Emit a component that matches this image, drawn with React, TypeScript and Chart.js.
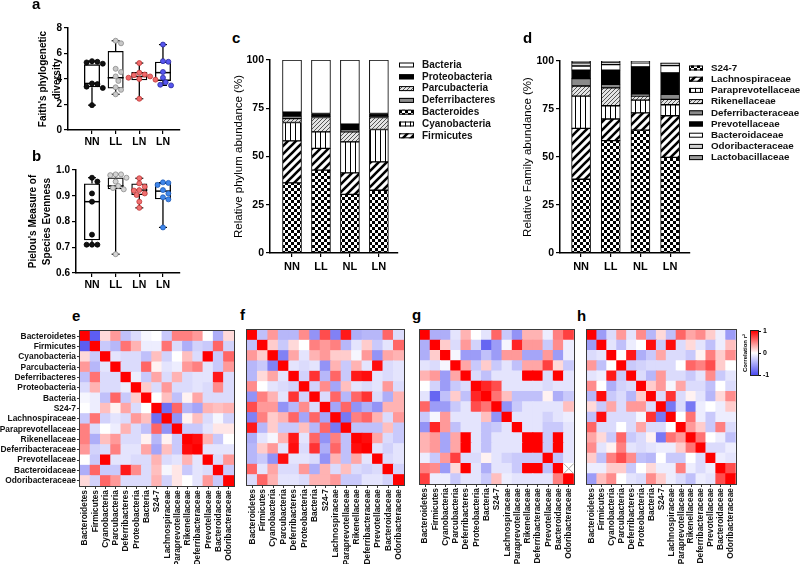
import React, { useEffect, useRef } from "react";
import { Chart, registerables } from "chart.js";
Chart.register(...registerables);

const FF = 'Arial, "Liberation Sans", Helvetica, sans-serif';

// ---------- panels a / b : alpha diversity ----------
const groupLabels = ["NN", "LL", "LN", "LN"];

const faithMin = [1.95, 2.8, 2.45, 3.5];
const faithQ1 = [3.35, 3.25, 3.9, 3.85];
const faithMed = [3.65, 4.1, 4.2, 4.5];
const faithQ3 = [5.15, 6.2, 4.55, 5.35];
const faithMax = [5.4, 7.0, 5.25, 6.7];
const faithNN = [5.4, 5.35, 5.3, 5.2, 3.65, 3.6, 3.4, 3.3, 1.95];
const faithLL = [7.0, 6.8, 4.8, 4.55, 4.2, 3.85, 3.35, 3.15, 2.8];
const faithLN1 = [5.25, 4.5, 4.35, 4.3, 4.2, 4.1, 4.0, 3.95, 2.45];
const faithLN2 = [6.7, 5.4, 5.35, 4.55, 4.1, 3.75, 3.55, 3.5];

const pielouMin = [0.71, 0.673, 0.853, 0.777];
const pielouQ1 = [0.727, 0.925, 0.903, 0.886];
const pielouMed = [0.877, 0.938, 0.922, 0.918];
const pielouQ3 = [0.948, 0.971, 0.948, 0.951];
const pielouMax = [0.97, 0.983, 0.968, 0.951];
const pielouNN = [0.97, 0.955, 0.909, 0.877, 0.749, 0.71, 0.71, 0.71];
const pielouLL = [0.983, 0.983, 0.98, 0.97, 0.955, 0.938, 0.93, 0.925, 0.673];
const pielouLN1 = [0.968, 0.948, 0.935, 0.922, 0.92, 0.909, 0.903, 0.877, 0.853];
const pielouLN2 = [0.952, 0.95, 0.942, 0.922, 0.909, 0.894, 0.886, 0.777];

// ---------- panels c / d : relative abundance ----------
const barGroups = ["NN", "LL", "NL", "LN"];

const phylumNames = ["Bacteroides", "Firmicutes", "Cyanobacteria", "Parcubacteria", "Deferribacteres", "Proteobacteria", "Bacteria"];
const phyBacteroides = [36.3, 42.9, 30.4, 32.5];
const phyFirmicutes = [21.8, 11.3, 11.1, 14.7];
const phyCyanobacteria = [9.5, 8.6, 16.1, 16.8];
const phyParcubacteria = [2.0, 7.4, 5.2, 6.2];
const phyDeferribacteres = [1.3, 0.4, 0.9, 0.5];
const phyProteobacteria = [2.1, 1.7, 3.1, 1.6];
const phyBacteria = [27.0, 27.7, 33.2, 27.7];
const phylumLegendOrder = [6, 5, 3, 4, 0, 2, 1];

const familyNames = ["S24-7", "Lachnospiraceae", "Paraprevotellaceae", "Rikenellaceae", "Deferribacteraceae", "Prevotellaceae", "Bacteroidaceae", "Odoribacteraceae", "Lactobacillaceae"];
const famS247 = [38.4, 58.5, 64.0, 49.8];
const famLachno = [26.5, 11.3, 9.0, 21.7];
const famParaprevo = [16.8, 6.9, 6.6, 5.7];
const famRikenella = [5.3, 9.3, 2.1, 2.8];
const famDeferri = [3.8, 1.9, 1.0, 2.7];
const famPrevo = [4.4, 7.3, 14.2, 11.1];
const famBacteroid = [2.2, 2.9, 2.1, 3.8];
const famOdori = [1.7, 1.4, 0.6, 1.0];
const famLacto = [0.9, 0.5, 0.4, 0.4];
const familyLegendOrder = [0, 1, 2, 3, 4, 5, 6, 7, 8];

// ---------- panels e-h : correlation matrices (lower triangles) ----------
const taxa = ["Bacteroidetes", "Firmicutes", "Cyanobacteria", "Parcubacteria", "Deferribacteres", "Proteobacteria", "Bacteria", "S24-7", "Lachnospiraceae", "Paraprevotellaceae", "Rikenellaceae", "Deferribacteraceae", "Prevotellaceae", "Bacteroidaceae", "Odoribacteraceae"];

const corrE = [
  [-0.9],
  [0.15, -0.3],
  [0.4, -0.4, -0.15],
  [-0.35, 0.55, -0.2, -0.2],
  [-0.2, 0.3, -0.2, -0.2, -0.1],
  [-0.05, -0.1, -0.35, 0.6, -0.3, 0.2],
  [0.0, -0.1, 0.25, 0.05, 0.35, -0.2, 0.0],
  [-0.3, 0.55, -0.25, -0.15, -0.2, 0.4, 0.25, -0.8],
  [0.5, -0.2, 0.0, -0.1, 0.3, -0.2, -0.35, 0.6, -0.6],
  [0.5, -0.45, 0.25, 0.4, -0.2, -0.2, 0.05, -0.4, 0.05, -0.3],
  [0.4, -0.25, -0.2, 0.5, -0.15, -0.15, 0.35, -0.5, 0.25, -0.3, 0.95],
  [0.0, -0.3, 1.0, -0.15, -0.15, -0.2, -0.2, 0.3, -0.2, -0.15, 0.3, -0.15],
  [-0.45, 0.6, -0.3, -0.3, 0.9, 0.45, -0.2, 0.25, -0.05, 0.1, -0.3, -0.15, -0.2],
  [0.15, -0.25, 0.6, 0.4, -0.2, -0.2, -0.2, 0.3, -0.25, 0.1, 0.0, -0.15, 0.4, -0.3],
];
const corrF = [
  [-0.35],
  [0.4, 0.2],
  [-0.4, -0.3, -0.7],
  [-0.4, 0.15, 0.35, -0.15],
  [0.45, 0.0, -0.15, -0.2, -0.25],
  [-0.6, 0.5, 0.3, -0.15, 0.8, -0.25],
  [0.7, 0.4, 0.4, -0.6, -0.4, 0.45, -0.2],
  [-0.7, 0.5, 0.2, 0.3, 0.6, -0.5, 0.6, -0.5],
  [0.9, -0.4, 0.2, -0.3, -0.3, 0.25, -0.4, 0.6, -0.75],
  [-0.45, -0.15, -0.05, 0.3, 0.9, -0.15, 0.6, -0.6, 0.5, -0.35],
  [-0.4, 0.2, 0.4, -0.15, 0.95, -0.2, 0.8, -0.45, 0.6, -0.35, 0.95],
  [-0.4, -0.3, -0.6, 0.95, -0.15, -0.15, -0.2, -0.6, 0.3, -0.35, 0.35, -0.15],
  [0.6, -0.15, 0.35, -0.2, -0.2, 0.4, -0.45, 0.3, -0.2, 0.25, -0.2, -0.25, -0.2],
  [-0.2, 0.6, 0.3, -0.15, -0.15, -0.2, 0.3, 0.3, 0.4, -0.3, -0.3, -0.15, -0.15, -0.25],
];
const corrG = [
  [-0.45],
  [-0.45, 0.2],
  [-0.15, -0.2, -0.05],
  [0.3, 0.4, -0.55, 0.35],
  [0.0, -0.25, -0.55, -0.3, -0.2],
  [-0.15, -0.85, -0.35, 0.2, -0.35, 0.85],
  [0.6, -0.55, -0.55, -0.3, -0.15, 0.7, 0.55],
  [-0.3, -0.05, 0.4, -0.15, -0.15, -0.15, 0.25, -0.6],
  [-0.6, 0.85, 0.4, -0.35, -0.15, -0.15, -0.35, -0.3, -0.15],
  [0.3, 0.4, -0.5, 0.35, 1.0, -0.15, -0.35, -0.15, -0.15, -0.15],
  [0.3, 0.4, -0.5, 0.35, 1.0, -0.15, -0.35, -0.15, -0.15, -0.15, 1.0],
  [-0.1, -0.3, 0.4, 0.75, -0.2, -0.2, 0.05, -0.15, -0.25, -0.3, -0.3, -0.3],
  [0.5, 0.45, -0.55, 0.15, 1.0, -0.15, -0.45, -0.15, -0.15, -0.3, 1.0, 1.0, -0.35],
  [0.75, -0.1, -0.1, -0.3, -0.15, -0.15, -0.3, 0.25, -0.1, -0.15, -0.15, -0.15, -0.15, 0.5],
];
const corrGMissing = [[13, 14]];
const corrH = [
  [-0.55],
  [-0.2, -0.15],
  [0.4, -0.35, 0.0],
  [-0.15, -0.1, 0.9, -0.3],
  [0.45, 0.0, -0.45, -0.25, -0.2],
  [-0.4, 0.95, -0.3, -0.2, -0.4, 0.2],
  [0.15, -0.3, 0.35, -0.2, 0.4, 0.4, -0.2],
  [-0.35, 0.95, -0.2, -0.2, -0.2, -0.05, 0.8, -0.75],
  [0.6, -0.2, -0.2, 0.0, -0.2, 0.35, -0.2, -0.2, 0.0],
  [0.35, 0.15, -0.3, 0.6, -0.3, -0.2, 0.05, -0.75, 0.55, 0.4],
  [0.45, -0.15, 0.05, 0.5, -0.15, -0.2, -0.15, -0.1, -0.1, 0.2, 0.55],
  [0.2, -0.35, 0.5, 0.7, 0.45, -0.35, -0.4, 0.0, -0.3, -0.3, 0.0, -0.2],
  [-0.1, -0.1, 0.2, 0.2, -0.3, 0.0, 0.15, -0.1, -0.1, 0.5, -0.1, -0.2, -0.1],
  [-0.55, 0.25, 0.45, 0.0, -0.15, -0.2, 0.45, 0.2, -0.1, -0.2, -0.35, -0.1, -0.15, 0.7],
];
const colorbarTicks = [-1, 0, 1];

// ---------- helpers ----------
function fullMatrix(tri: number[][], missing: number[][] = []): (number | null)[][] {
  const n = tri.length + 1;
  const M: (number | null)[][] = Array.from({ length: n }, (_, i) => Array.from({ length: n }, (_, j) => (i === j ? 1 : 0)));
  tri.forEach((row, k) => {
    row.forEach((v, j) => {
      M[k + 1][j] = v;
      M[j][k + 1] = v;
    });
  });
  missing.forEach(([r, c]) => (M[r][c] = null));
  return M;
}

const NEG = [75, 75, 240];
function corrColor(v: number | null): string {
  if (v === null) return "#ffffff";
  const t = Math.max(-1, Math.min(1, v));
  if (t >= 0) {
    const k = Math.round(255 * (1 - t));
    return `rgb(255,${k},${k})`;
  }
  const a = -t;
  return `rgb(${Math.round(255 - a * (255 - NEG[0]))},${Math.round(255 - a * (255 - NEG[1]))},${Math.round(255 - a * (255 - NEG[2]))})`;
}

function swarmOffsets(vals: number[], pxPerY: number, pxPerX: number, dot: number): number[] {
  const order = vals.map((_, i) => i).sort((a, b) => vals[b] - vals[a]);
  const placed: { x: number; y: number }[] = [];
  const out = vals.map(() => 0);
  for (const i of order) {
    const yy = vals[i] * pxPerY;
    for (let k = 0; k < 60; k++) {
      const step = Math.ceil(k / 2) * (k % 2 ? 1 : -1) * dot * 0.5;
      if (placed.every((p) => (p.x - step) ** 2 + (p.y - yy) ** 2 >= dot * dot * 0.9)) {
        placed.push({ x: step, y: yy });
        out[i] = step / pxPerX;
        break;
      }
    }
  }
  return out;
}

function makeFill(kind: string): any {
  const c = document.createElement("canvas");
  const g = c.getContext("2d")!;
  if (kind === "checker") {
    c.width = c.height = 6;
    g.fillStyle = "#fff"; g.fillRect(0, 0, 6, 6);
    g.fillStyle = "#000"; g.fillRect(0, 0, 3, 3); g.fillRect(3, 3, 3, 3);
  } else if (kind === "diag") {
    const s = 8;
    c.width = c.height = s;
    g.fillStyle = "#fff"; g.fillRect(0, 0, s, s);
    g.strokeStyle = "#000"; g.lineWidth = 2.6;
    g.beginPath();
    g.moveTo(-1, s + 1); g.lineTo(s + 1, -1);
    g.moveTo(-2, 2); g.lineTo(2, -2);
    g.moveTo(s - 2, s + 2); g.lineTo(s + 2, s - 2);
    g.stroke();
  } else if (kind === "vlines") {
    c.width = 5; c.height = 2;
    g.fillStyle = "#fff"; g.fillRect(0, 0, 5, 2);
    g.fillStyle = "#000"; g.fillRect(0, 0, 1, 2);
  } else if (kind === "hatch") {
    const s = 4;
    c.width = c.height = s;
    g.fillStyle = "#e4e4e4"; g.fillRect(0, 0, s, s);
    g.strokeStyle = "#555"; g.lineWidth = 1;
    g.beginPath();
    g.moveTo(-1, s + 1); g.lineTo(s + 1, -1);
    g.moveTo(-1, 1); g.lineTo(1, -1);
    g.moveTo(s - 1, s + 1); g.lineTo(s + 1, s - 1);
    g.stroke();
  } else {
    return kind;
  }
  return g.createPattern(c, "repeat");
}

const fixW = (w: number) => (s: any) => { s.width = w; };
const fixH = (h: number) => (s: any) => { s.height = h; };

const baseOpts = (pad: any, plugins: any = {}) => ({
  responsive: false,
  animation: false,
  devicePixelRatio: 1,
  events: [],
  layout: { padding: pad },
  plugins: { legend: { display: false }, tooltip: { enabled: false }, ...plugins },
});

const axisGrid = (len: number) => ({ display: true, drawOnChartArea: false, drawTicks: true, tickLength: len, color: "#000", lineWidth: 1.2, offset: false });
const axisBorder = { display: true, color: "#000", width: 1.5 };

const sideLegend = {
  id: "sideLegend",
  afterDraw(chart: any, _a: any, o: any) {
    if (!o || !o.items) return;
    const ctx = chart.ctx;
    ctx.save();
    ctx.font = `bold ${o.size}px ${FF}`;
    ctx.textBaseline = "middle";
    o.items.forEach((di: number, k: number) => {
      const ds = chart.data.datasets[di];
      const y = o.y + k * o.step;
      ctx.fillStyle = ds.backgroundColor;
      ctx.fillRect(o.x, y - o.boxH / 2, o.boxW, o.boxH);
      ctx.strokeStyle = "#000";
      ctx.lineWidth = 1;
      ctx.strokeRect(o.x + 0.5, y - o.boxH / 2 + 0.5, o.boxW - 1, o.boxH - 1);
      ctx.fillStyle = "#111";
      ctx.fillText(ds.label, o.x + o.boxW + o.gap, y);
    });
    ctx.restore();
  },
};

const frame = {
  id: "frame",
  afterDatasetsDraw(chart: any, _a: any, o: any) {
    if (!o || !o.color) return;
    const { left, top, right, bottom } = chart.chartArea;
    const ctx = chart.ctx;
    ctx.save();
    ctx.strokeStyle = o.color;
    ctx.lineWidth = o.width;
    ctx.strokeRect(Math.round(left) - 0.5, Math.round(top) - 0.5, Math.round(right - left) + 1, Math.round(bottom - top) + 1);
    ctx.restore();
  },
};

const missingMark = {
  id: "missingMark",
  afterDatasetsDraw(chart: any, _a: any, o: any) {
    if (!o || !o.cells || !o.cells.length) return;
    const xs = chart.scales.x, ys = chart.scales.y;
    const n = taxa.length;
    const half = (chart.chartArea.right - chart.chartArea.left) / n / 2;
    const ctx = chart.ctx;
    ctx.save();
    ctx.strokeStyle = "#aaa";
    ctx.lineWidth = 1;
    o.cells.forEach(([r, c]: number[]) => {
      const cx = xs.getPixelForValue(c);
      const y0 = ys.getPixelForValue(n - r), y1 = ys.getPixelForValue(n - 1 - r);
      ctx.beginPath();
      ctx.moveTo(cx - half, y0); ctx.lineTo(cx + half, y1);
      ctx.moveTo(cx - half, y1); ctx.lineTo(cx + half, y0);
      ctx.stroke();
    });
    ctx.restore();
  },
};

// ---------- chart makers ----------
type BoxSpec = {
  mins: number[]; q1: number[]; med: number[]; q3: number[]; maxs: number[];
  points: number[][]; fills: string[]; edges: string[];
  yMin: number; yMax: number; yStep: number; xMin: number; xMax: number;
  title: string[]; titlePad: number; yW: number; xH: number; padTop: number; padRight: number;
  pxY: number; fmt: (v: number) => string;
};

function boxChart(p: BoxSpec) {
  return () => {
    const pxX = 23.67;
    const pts = p.points.map((vals, g) => {
      const off = swarmOffsets(vals, p.pxY, pxX, 5.4);
      return {
        type: "scatter",
        data: vals.map((v, i) => ({ x: g + off[i], y: v })),
        backgroundColor: p.fills[g], borderColor: p.edges[g], borderWidth: 0.8, pointRadius: 2.5,
      };
    });
    const datasets: any[] = [
      ...pts,
      { type: "scatter", data: p.med.map((v, g) => ({ x: g, y: v })), pointStyle: "line", pointRadius: 8, borderColor: "#000", borderWidth: 1.5 },
      { type: "scatter", data: [...p.mins.map((v, g) => ({ x: g, y: v })), ...p.maxs.map((v, g) => ({ x: g, y: v }))], pointStyle: "line", pointRadius: 4, borderColor: "#000", borderWidth: 1.2 },
      { type: "bar", data: p.mins.map((v, g) => ({ x: g, y: [v, p.q1[g]] })), backgroundColor: "#000", borderWidth: 0, grouped: false, maxBarThickness: 1.3 },
      { type: "bar", data: p.q3.map((v, g) => ({ x: g, y: [v, p.maxs[g]] })), backgroundColor: "#000", borderWidth: 0, grouped: false, maxBarThickness: 1.3 },
      { type: "bar", data: p.q1.map((v, g) => ({ x: g, y: [v, p.q3[g]] })), backgroundColor: "rgba(255,255,255,0)", borderColor: "#000", borderWidth: 1.3, borderSkipped: false, grouped: false, maxBarThickness: 16 },
    ];
    return {
      type: "bar",
      data: { datasets },
      options: {
        ...baseOpts({ top: p.padTop, right: p.padRight, left: 0, bottom: 0 }),
        scales: {
          x: {
            type: "linear", min: p.xMin, max: p.xMax, offset: false,
            afterBuildTicks: (s: any) => { s.ticks = groupLabels.map((_, i) => ({ value: i })); },
            ticks: { callback: (v: number) => groupLabels[Math.round(v)], font: { family: FF, size: 10.5, weight: "bold" }, color: "#000", padding: 2, autoSkip: false, maxRotation: 0 },
            grid: axisGrid(4), border: axisBorder, afterFit: fixH(p.xH),
          },
          y: {
            type: "linear", min: p.yMin, max: p.yMax,
            ticks: { stepSize: p.yStep, callback: p.fmt, font: { family: FF, size: 10, weight: "bold" }, color: "#000", padding: 2 },
            grid: axisGrid(4), border: axisBorder,
            title: { display: true, text: p.title, color: "#000", font: { family: FF, size: 10, weight: "bold", lineHeight: 1.4 }, padding: { top: p.titlePad, bottom: 0 } },
            afterFit: fixW(p.yW),
          },
        },
      },
    };
  };
}

type StackSpec = {
  names: string[]; series: number[][]; fills: string[]; legendOrder: number[];
  xMin: number; xMax: number; title: string; titlePad: number; yW: number; xH: number; padTop: number; padRight: number;
  legend: any;
};

function stackChart(p: StackSpec) {
  return () => ({
    type: "bar",
    data: {
      datasets: p.series.map((s, k) => ({
        label: p.names[k],
        data: s.map((v, i) => ({ x: i, y: v })),
        backgroundColor: makeFill(p.fills[k]),
        borderColor: "#000", borderWidth: 1, borderSkipped: false, barThickness: 19,
      })),
    },
    plugins: [sideLegend],
    options: {
      ...baseOpts({ top: p.padTop, right: p.padRight, left: 0, bottom: 0 }, { sideLegend: { ...p.legend, items: p.legendOrder } }),
      scales: {
        x: {
          type: "linear", min: p.xMin, max: p.xMax, stacked: true, offset: false,
          afterBuildTicks: (s: any) => { s.ticks = barGroups.map((_, i) => ({ value: i })); },
          ticks: { callback: (v: number) => barGroups[Math.round(v)], font: { family: FF, size: 11, weight: "bold" }, color: "#000", padding: 3, autoSkip: false, maxRotation: 0 },
          grid: axisGrid(4), border: axisBorder, afterFit: fixH(p.xH),
        },
        y: {
          type: "linear", min: 0, max: 100, stacked: true,
          ticks: { stepSize: 25, font: { family: FF, size: 10.5, weight: "bold" }, color: "#000", padding: 2 },
          grid: axisGrid(4), border: axisBorder,
          title: { display: true, text: p.title, color: "#000", font: { family: FF, size: 11.5 }, padding: { top: p.titlePad, bottom: 0 } },
          afterFit: fixW(p.yW),
        },
      },
    },
  });
}

function heatChart(M: (number | null)[][], showRows: boolean, yW: number, xH: number, padRight: number, missing: number[][] = []) {
  return () => {
    const n = taxa.length;
    const lab = { family: FF, size: 8.4, weight: "bold" };
    return {
      type: "bar",
      data: {
        labels: taxa,
        datasets: taxa.map((_, k) => {
          const r = n - 1 - k;
          return {
            data: taxa.map(() => 1),
            backgroundColor: taxa.map((_, c) => corrColor(M[r][c])),
            borderWidth: 0, barPercentage: 1, categoryPercentage: 1, inflateAmount: 0.5,
          };
        }),
      },
      plugins: [frame, missingMark],
      options: {
        ...baseOpts({ top: 5, right: padRight, left: 0, bottom: 0 }, { frame: { color: "#3a3a3a", width: 1 }, missingMark: { cells: missing } }),
        scales: {
          x: {
            stacked: true,
            ticks: { autoSkip: false, minRotation: 90, maxRotation: 90, font: lab, color: "#111", padding: 1 },
            grid: { display: true, drawOnChartArea: false, drawTicks: true, tickLength: 3, color: "#333", offset: false },
            border: { display: false }, afterFit: fixH(xH),
          },
          y: {
            stacked: true, min: 0, max: n,
            afterBuildTicks: (s: any) => { s.ticks = taxa.map((_, i) => ({ value: i + 0.5 })); },
            ticks: { display: showRows, autoSkip: false, callback: (v: number) => taxa[n - 1 - Math.floor(v)], font: lab, color: "#111", padding: 1 },
            grid: { display: showRows, drawOnChartArea: false, drawTicks: true, tickLength: 3, color: "#333", offset: false },
            border: { display: false }, afterFit: fixW(yW),
          },
        },
      },
    };
  };
}

function colorbarFill(c: any) {
  const ch = c.chart;
  const ys = ch && ch.scales ? ch.scales.y : null;
  if (!ys || !ch.chartArea) return "#ffffff";
  const p0 = ys.getPixelForValue(colorbarTicks[0]);
  const p1 = ys.getPixelForValue(colorbarTicks[2]);
  if (!Number.isFinite(p0) || !Number.isFinite(p1) || p0 === p1) return "#ffffff";
  const g = ch.ctx.createLinearGradient(0, p0, 0, p1);
  g.addColorStop(0, corrColor(-1));
  g.addColorStop(0.5, corrColor(0));
  g.addColorStop(1, corrColor(1));
  return g;
}

function colorbarChart() {
  return () => ({
    type: "bar",
    data: {
      labels: ["r"],
      datasets: [{
        data: [[colorbarTicks[0], colorbarTicks[2]]],
        yAxisID: "y",
        barPercentage: 1, categoryPercentage: 1, borderWidth: 0,
        backgroundColor: colorbarFill,
      }],
    },
    plugins: [frame],
    options: {
      ...baseOpts({ top: 9, bottom: 9, left: 0, right: 0 }, { frame: { color: "#222", width: 1 } }),
      scales: {
        x: { display: false },
        y: {
          position: "right", min: -1, max: 1,
          afterBuildTicks: (s: any) => { s.ticks = colorbarTicks.map((v) => ({ value: v })); },
          ticks: { font: { family: FF, size: 7, weight: "bold" }, color: "#000", padding: 2 },
          grid: { display: true, drawOnChartArea: false, drawTicks: true, tickLength: 3, color: "#000" },
          border: { display: false }, afterFit: fixW(42),
        },
        yl: {
          position: "left", min: -1, max: 1,
          ticks: { display: false }, grid: { display: false }, border: { display: false },
          title: { display: true, text: "Correlation r\u00b2", color: "#000", font: { family: FF, size: 6, weight: "bold" }, padding: { top: 22, bottom: 0 } },
          afterFit: fixW(31),
        },
      },
    },
  });
}

const makeA = boxChart({
  mins: faithMin, q1: faithQ1, med: faithMed, q3: faithQ3, maxs: faithMax,
  points: [faithNN, faithLL, faithLN1, faithLN2],
  fills: ["#111111", "#c8c8c8", "#f06a6a", "#5656ee"], edges: ["#000000", "#8a8a8a", "#c03a3a", "#2a2aa0"],
  yMin: 0, yMax: 8, yStep: 2, xMin: -1.014, xMax: 3.72,
  title: ["Faith's phylogenetic", "diversity"], titlePad: 36, yW: 68, xH: 25, padTop: 18, padRight: 10,
  pxY: 12.75, fmt: (v: number) => String(v),
});
const makeB = boxChart({
  mins: pielouMin, q1: pielouQ1, med: pielouMed, q3: pielouQ3, maxs: pielouMax,
  points: [pielouNN, pielouLL, pielouLN1, pielouLN2],
  fills: ["#111111", "#d4d4d4", "#f07070", "#3f86ea"], edges: ["#000000", "#8a8a8a", "#c03a3a", "#1f5cb8"],
  yMin: 0.6, yMax: 1.0, yStep: 0.1, xMin: -0.676, xMax: 3.72,
  title: ["Pielou's Measure of", "Species Evenness"], titlePad: 26, yW: 76, xH: 22, padTop: 10, padRight: 10,
  pxY: 257.5, fmt: (v: number) => v.toFixed(1),
});
const makeC = stackChart({
  names: phylumNames,
  series: [phyBacteroides, phyFirmicutes, phyCyanobacteria, phyParcubacteria, phyDeferribacteres, phyProteobacteria, phyBacteria],
  fills: ["checker", "diag", "vlines", "hatch", "#8c8c8c", "#000000", "#ffffff"],
  legendOrder: phylumLegendOrder,
  xMin: -0.76, xMax: 3.66, title: "Relative phylum abundance (%)", titlePad: 37, yW: 75, xH: 27, padTop: 10, padRight: 157,
  legend: { x: 204, y: 15, step: 11.8, boxW: 15, boxH: 5, gap: 8, size: 10 },
});
const makeD = stackChart({
  names: familyNames,
  series: [famS247, famLachno, famParaprevo, famRikenella, famDeferri, famPrevo, famBacteroid, famOdori, famLacto],
  fills: ["checker", "diag", "vlines", "hatch", "#8a8a8a", "#000000", "#ffffff", "#d2d2d2", "#9c9c9c"],
  legendOrder: familyLegendOrder,
  xMin: -0.71, xMax: 3.67, title: "Relative Family abundance (%)", titlePad: 31, yW: 70, xH: 27, padTop: 11, padRight: 110,
  legend: { x: 199, y: 18, step: 11.2, boxW: 14, boxH: 5, gap: 8, size: 9.8 },
});
const makeE = heatChart(fullMatrix(corrE), true, 80, 78, 5);
const makeF = heatChart(fullMatrix(corrF), false, 7, 79, 6);
const makeG = heatChart(fullMatrix(corrG, corrGMissing), false, 8, 80, 6, corrGMissing);
const makeH = heatChart(fullMatrix(corrH), false, 7, 80, 5);
const makeBar = colorbarChart();

function ChartCanvas({ x, y, w, h, make }: { x: number; y: number; w: number; h: number; make: () => any }) {
  const ref = useRef<HTMLCanvasElement | null>(null);
  useEffect(() => {
    if (!ref.current) return;
    let chart: Chart | null = null;
    try {
      chart = new Chart(ref.current, make());
    } catch (e) {
      console.error(e);
    }
    return () => { if (chart) chart.destroy(); };
  }, [make]);
  return <canvas ref={ref} width={w} height={h} style={{ position: "absolute", left: x, top: y, width: w, height: h }} />;
}

const letterStyle = (left: number, top: number): React.CSSProperties => ({
  position: "absolute", left, top, font: `bold 15px ${FF}`, lineHeight: "15px", color: "#000",
});

export default function App() {
  return (
    <div style={{ position: "absolute", left: 0, top: 0, width: 800, height: 564, background: "#fff", overflow: "hidden" }}>
      <ChartCanvas x={0} y={10} w={190} h={145} make={makeA} />
      <ChartCanvas x={0} y={160} w={190} h={135} make={makeB} />
      <ChartCanvas x={195} y={50} w={360} h={230} make={makeC} />
      <ChartCanvas x={490} y={50} w={310} h={230} make={makeD} />
      <ChartCanvas x={0} y={325} w={240} h={239} make={makeE} />
      <ChartCanvas x={240} y={325} w={170} h={239} make={makeF} />
      <ChartCanvas x={412} y={325} w={168} h={239} make={makeG} />
      <ChartCanvas x={580} y={325} w={162} h={239} make={makeH} />
      <ChartCanvas x={720} y={322} w={80} h={62} make={makeBar} />
      <div style={letterStyle(32, -4)}>a</div>
      <div style={letterStyle(32, 148)}>b</div>
      <div style={letterStyle(232, 30)}>c</div>
      <div style={letterStyle(523, 30)}>d</div>
      <div style={letterStyle(72, 308)}>e</div>
      <div style={letterStyle(240, 307)}>f</div>
      <div style={letterStyle(412, 307)}>g</div>
      <div style={letterStyle(577, 308)}>h</div>
    </div>
  );
}
